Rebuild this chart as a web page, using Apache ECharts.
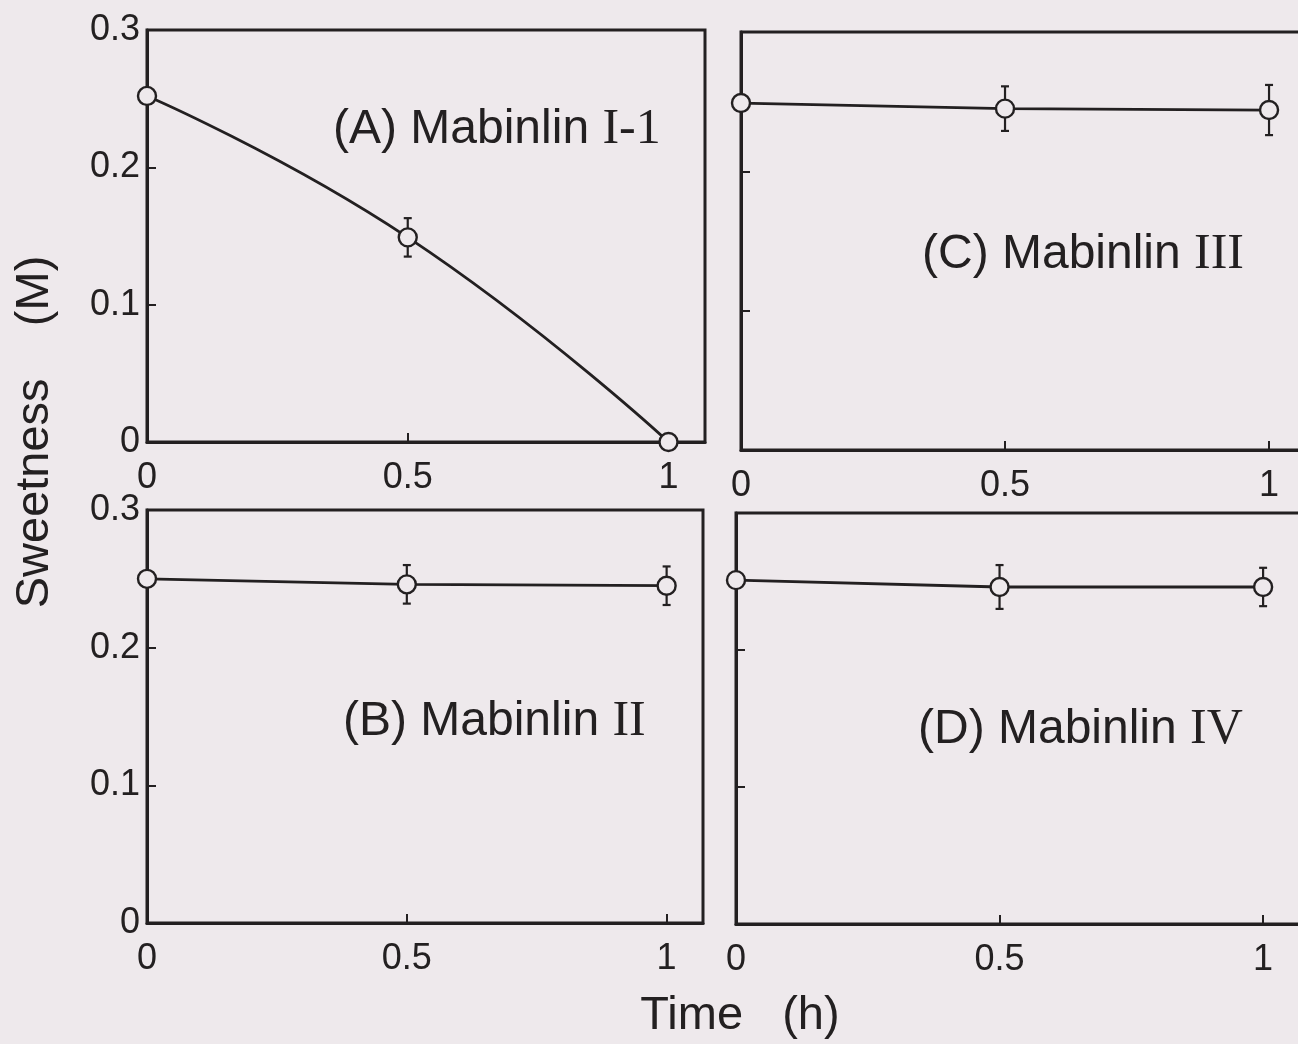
<!DOCTYPE html>
<html>
<head>
<meta charset="utf-8">
<script src="https://cdn.jsdelivr.net/npm/echarts@6/dist/echarts.min.js"></script>
<style>
html,body{margin:0;padding:0;background:#eee9ec;}
#chart{width:1298px;height:1044px;}
</style>
</head>
<body>
<div id="chart"></div>
<script>
// ---- data ----
const timeH = [0, 0.5, 1];
const sweetA = [0.252, 0.149, 0.0];
const errA   = [0, 0.014, 0];
const sweetB = [0.250, 0.246, 0.245];
const errB   = [0, 0.014, 0.014];
const sweetC = [0.249, 0.245, 0.244];
const errC   = [0, 0.016, 0.018];
const sweetD = [0.251, 0.246, 0.246];
const errD   = [0, 0.016, 0.014];
const xTicks = [0, 0.5, 1];
const xTickLabels = ['0', '0.5', '1'];
const yTickLabels = ['0', '0.1', '0.2', '0.3'];
const panelLetters = ['(A) Mabinlin ', '(B) Mabinlin ', '(C) Mabinlin ', '(D) Mabinlin '];
const panelNumerals = ['I-1', 'II', 'III', 'IV'];
const xTitle = 'Time   (h)';
const yTitle = 'Sweetness    (M)';

const INK = '#232021';
const BG = '#eee9ec';
const SANS = '"Liberation Sans", Arial, Helvetica, sans-serif';
const SERIF = '"Liberation Serif", "Times New Roman", serif';

const grids = [
  {left:147, top:30,  width:558, height:412},
  {left:147, top:510, width:556, height:413},
  {left:741, top:32,  width:565, height:418},
  {left:736, top:513, width:564, height:411}
].map(g => Object.assign({show:true, outerBoundsMode:'none', containLabel:false,
  borderColor:INK, borderWidth:3, backgroundColor:'transparent'}, g));

const showYLabels = [true, true, false, false];
const xAxes = grids.map((g,i) => ({
  type:'value', gridIndex:i, min:0, max:1.07, interval:0.5,
  axisLine:{show:true, onZero:false, lineStyle:{color:INK, width:3}},
  axisTick:{show:true, inside:true, length:9, lineStyle:{color:INK, width:2}},
  splitLine:{show:false},
  axisLabel:{show:true, margin:18, color:INK, fontFamily:SANS, fontSize:36,
    formatter: v => { const k = xTicks.indexOf(Math.round(v*100)/100); return k>=0 ? xTickLabels[k] : ''; }}
}));
const yAxes = grids.map((g,i) => ({
  type:'value', gridIndex:i, min:0, max:0.3, interval:0.1,
  axisLine:{show:true, onZero:false, lineStyle:{color:INK, width:3}},
  axisTick:{show:true, inside:true, length:9, lineStyle:{color:INK, width:2}},
  splitLine:{show:false},
  axisLabel:{show:showYLabels[i], margin:7, color:INK, fontFamily:SANS, fontSize:36,
    formatter: v => yTickLabels[Math.round(v*10)] || ''}
}));

const sweets = [sweetA, sweetB, sweetC, sweetD];
const errs = [errA, errB, errC, errD];

function errRender(params, api){
  const x = api.value(0), y = api.value(1), e = api.value(2);
  if (!e) return null;
  const t = api.coord([x, y + e]);
  const b = api.coord([x, y - e]);
  const cap = 4;
  const st = {stroke:INK, lineWidth:2.2};
  return {type:'group', children:[
    {type:'line', shape:{x1:t[0], y1:t[1], x2:b[0], y2:b[1]}, style:st},
    {type:'line', shape:{x1:t[0]-cap, y1:t[1], x2:t[0]+cap, y2:t[1]}, style:st},
    {type:'line', shape:{x1:b[0]-cap, y1:b[1], x2:b[0]+cap, y2:b[1]}, style:st}
  ]};
}

const series = [];
sweets.forEach((arr, i) => {
  series.push({
    type:'custom', xAxisIndex:i, yAxisIndex:i, z:2, clip:false,
    renderItem: errRender,
    data: timeH.map((t,k) => [t, arr[k], errs[i][k]])
  });
  series.push({
    type:'line', xAxisIndex:i, yAxisIndex:i, z:3, clip:false,
    smooth: i === 0 ? 0.5 : false,
    data: timeH.map((t,k) => [t, arr[k]]),
    symbol:'circle', symbolSize:18,
    lineStyle:{color:INK, width:2.8},
    itemStyle:{color:BG, borderColor:INK, borderWidth:2.4},
    emphasis:{disabled:true}
  });
});

const labelPos = [[333,130],[343,722],[922,255],[918,730]];
const graphics = labelPos.map((p,i) => ({
  type:'text', x:p[0], y:p[1], z:10,
  style:{
    text:'{a|' + panelLetters[i] + '}{r|' + panelNumerals[i] + '}',
    verticalAlign:'middle', align:'left',
    rich:{
      a:{fontFamily:SANS, fontSize:48, fill:INK, color:INK},
      r:{fontFamily:SERIF, fontSize:50, fill:INK, color:INK}
    }
  }
}));
graphics.push({
  type:'text', x:740, y:1016, z:10,
  style:{text:xTitle, font:'47px ' + SANS, fill:INK, align:'center', verticalAlign:'middle'}
});
graphics.push({
  type:'text', x:35, y:432, rotation:Math.PI/2, z:10,
  style:{text:yTitle, font:'47px ' + SANS, fill:INK, align:'center', verticalAlign:'middle'}
});

const chart = echarts.init(document.getElementById('chart'), null, {renderer:'canvas'});
chart.setOption({
  backgroundColor:BG,
  animation:false,
  grid:grids,
  xAxis:xAxes,
  yAxis:yAxes,
  series:series,
  graphic:graphics
});
</script>
</body>
</html>
